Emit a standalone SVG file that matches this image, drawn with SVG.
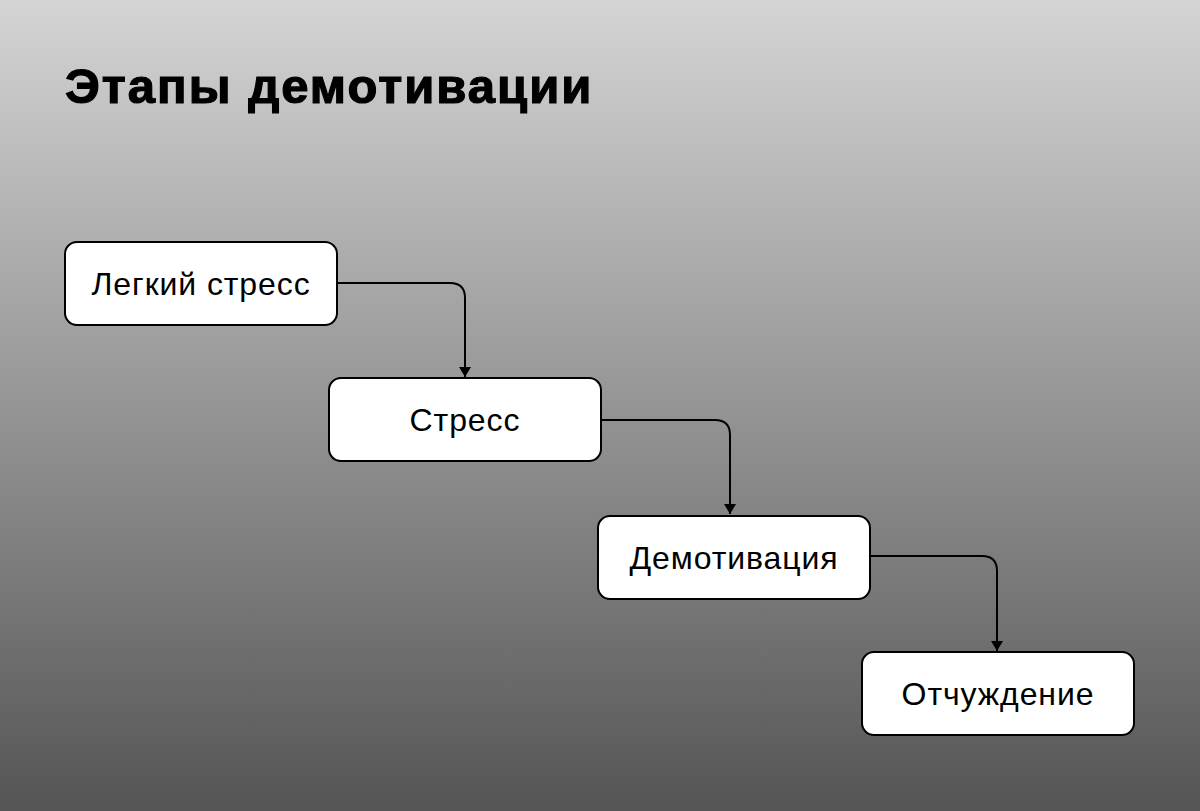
<svg xmlns="http://www.w3.org/2000/svg" width="1200" height="811" viewBox="0 0 1200 811">
<defs>
<linearGradient id="bg" x1="0" y1="0" x2="0" y2="1">
<stop offset="0" stop-color="#d4d4d4"/>
<stop offset="1" stop-color="#555555"/>
</linearGradient>
<marker id="arr" viewBox="0 0 10 12" refX="10" refY="6" markerWidth="10" markerHeight="12" markerUnits="userSpaceOnUse" orient="auto">
<path d="M0,0 L10,6 L0,12 z" fill="#000"/>
</marker>
<style>
.node rect{fill:#fff;stroke:#000;stroke-width:2}
.node text{font-family:"Liberation Sans",Arial,sans-serif;font-size:32px;letter-spacing:0.9px;fill:#000;text-anchor:middle}
.title{font-family:"Liberation Sans",Arial,sans-serif;font-size:49px;font-weight:bold;letter-spacing:2px;fill:#000;stroke:#000;stroke-width:1.2px}
.conn path{fill:none;stroke:#000;stroke-width:2}
</style>
</defs>
<rect width="1200" height="811" fill="url(#bg)"/>
<text class="title" x="65" y="103">Этапы демотивации</text>
<g class="conn">
<path d="M337,283 H450 Q465,283 465,298 V377" marker-end="url(#arr)"/>
<path d="M601,420 H715 Q730,420 730,435 V514" marker-end="url(#arr)"/>
<path d="M870,556 H982 Q997,556 997,571 V651" marker-end="url(#arr)"/>
</g>
<g id="node1" class="node"><rect x="65" y="242" width="272" height="83" rx="12"/><text x="201" y="295">Легкий стресс</text></g>
<g id="node2" class="node"><rect x="329" y="378" width="272" height="83" rx="12"/><text x="465" y="431">Стресс</text></g>
<g id="node3" class="node"><rect x="598" y="516" width="272" height="83" rx="12"/><text x="734" y="569">Демотивация</text></g>
<g id="node4" class="node"><rect x="862" y="652" width="272" height="83" rx="12"/><text x="998" y="705">Отчуждение</text></g>
</svg>
